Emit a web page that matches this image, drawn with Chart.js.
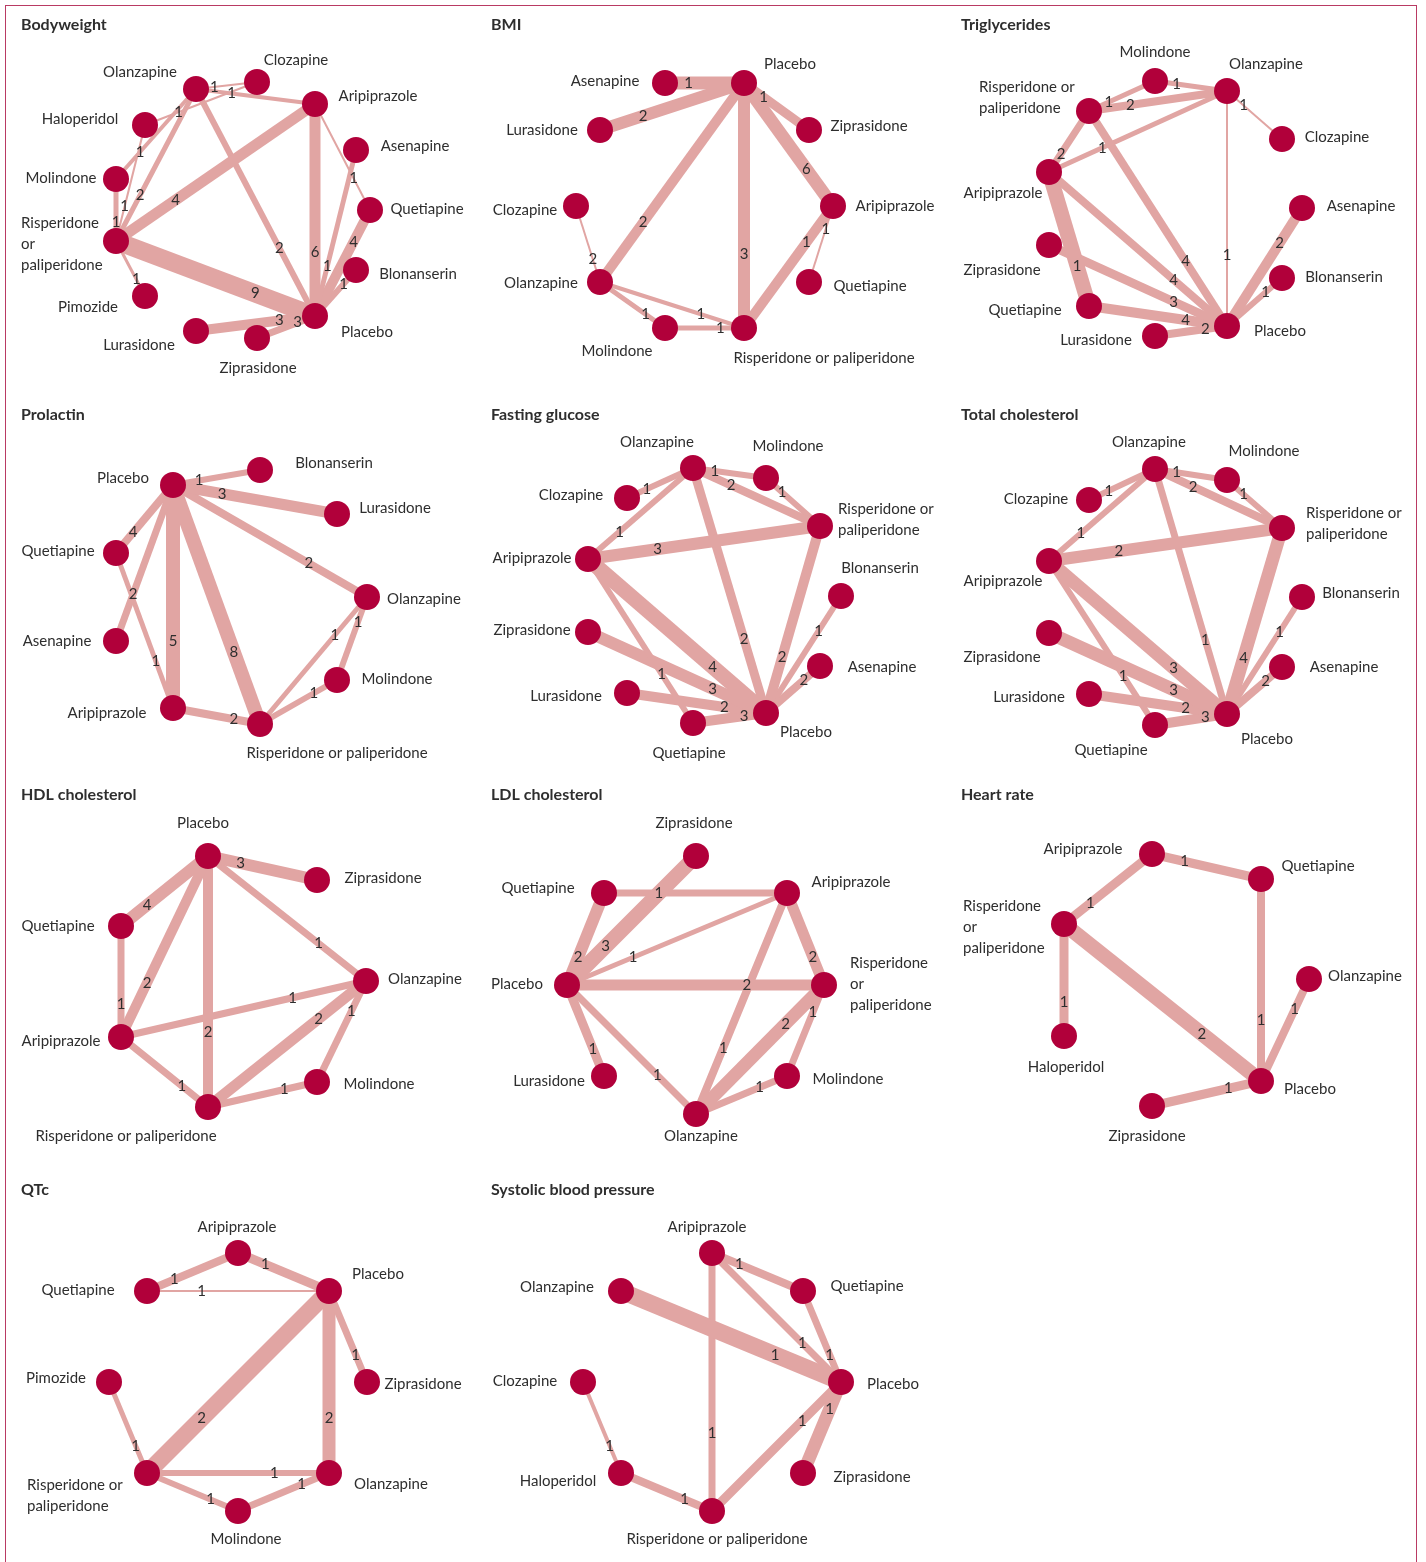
<!DOCTYPE html>
<html>
<head>
<meta charset="utf-8">
<script src="https://cdn.jsdelivr.net/npm/chart.js@4/dist/chart.umd.min.js"></script>
<style>
  body { margin: 0; background: #fff; }
  #page { position: relative; width: 1426px; height: 1562px; overflow: hidden; }
  #frame { position: absolute; left: 5px; top: 5px; width: 1412px; height: 1600px;
           border: 1px solid #b93a63; border-bottom: none; box-sizing: border-box; }
  canvas { position: absolute; }
</style>
</head>
<body>
<div id="page"><div id="frame"></div></div>
<script>
// node layout: [name, x, y]   edges: [near node, far node, number of studies, line weight]
// labels: [dx, dy] centred, or [dx, dy, text] left aligned over several lines

const bodyweightNodes = [
  ["Olanzapine", 186, 79], ["Clozapine", 247, 72], ["Aripiprazole", 305, 94], ["Haloperidol", 135, 115],
  ["Asenapine", 346, 140], ["Molindone", 106, 169], ["Quetiapine", 360, 200], ["Risperidone", 106, 231],
  ["Blonanserin", 346, 260], ["Pimozide", 135, 286], ["Placebo", 305, 306], ["Lurasidone", 186, 321],
  ["Ziprasidone", 247, 328]
];
const bodyweightEdges = [
  ["Olanzapine", "Clozapine", 1, 2], ["Olanzapine", "Aripiprazole", 1, 4], ["Haloperidol", "Clozapine", 1, 2],
  ["Molindone", "Olanzapine", 1, 4], ["Risperidone", "Olanzapine", 2, 5], ["Risperidone", "Haloperidol", 1, 2],
  ["Risperidone", "Molindone", 1, 5], ["Risperidone", "Aripiprazole", 4, 11], ["Placebo", "Olanzapine", 2, 6],
  ["Placebo", "Aripiprazole", 6, 11], ["Placebo", "Asenapine", 1, 5], ["Quetiapine", "Aripiprazole", 1, 2],
  ["Quetiapine", "Placebo", 4, 10], ["Blonanserin", "Placebo", 1, 6], ["Placebo", "Risperidone", 9, 18],
  ["Placebo", "Lurasidone", 3, 10], ["Placebo", "Ziprasidone", 3, 7], ["Pimozide", "Risperidone", 1, 3]
];
const bodyweightLabels = [
  [-56, -17], [39, -22], [63, -8], [-65, -6], [59, -4], [-55, -1], [57, -1],
  [-95, -18, "Risperidone\nor\npaliperidone"], [62, 4], [-57, 11], [52, 16], [-57, 14], [1, 30]
];

const bmiNodes = [
  ["Asenapine", 185, 73], ["Placebo", 264, 73], ["Lurasidone", 120, 120], ["Ziprasidone", 329, 120],
  ["Clozapine", 96, 196], ["Aripiprazole", 353, 196], ["Olanzapine", 120, 272], ["Quetiapine", 329, 272],
  ["Molindone", 185, 318], ["Risperidone or paliperidone", 264, 318]
];
const bmiEdges = [
  ["Asenapine", "Placebo", 1, 13], ["Lurasidone", "Placebo", 2, 12], ["Placebo", "Ziprasidone", 1, 9],
  ["Aripiprazole", "Placebo", 6, 13], ["Olanzapine", "Placebo", 2, 10], ["Risperidone or paliperidone", "Placebo", 3, 12],
  ["Aripiprazole", "Risperidone or paliperidone", 1, 10], ["Aripiprazole", "Quetiapine", 1, 2],
  ["Olanzapine", "Clozapine", 2, 2], ["Molindone", "Olanzapine", 1, 5],
  ["Risperidone or paliperidone", "Olanzapine", 1, 4], ["Risperidone or paliperidone", "Molindone", 1, 5]
];
const bmiLabels = [
  [-60, -2], [46, -19], [-58, 0], [60, -4], [-51, 4], [62, 0], [-59, 1], [61, 4], [-48, 23], [80, 30]
];

const triglyceridesNodes = [
  ["Molindone", 205, 71], ["Olanzapine", 277, 81], ["Risperidone", 139, 101], ["Clozapine", 332, 129],
  ["Aripiprazole", 99, 162], ["Asenapine", 352, 198], ["Ziprasidone", 99, 235], ["Blonanserin", 332, 268],
  ["Quetiapine", 139, 296], ["Placebo", 277, 316], ["Lurasidone", 205, 326]
];
const triglyceridesEdges = [
  ["Molindone", "Olanzapine", 1, 5], ["Risperidone", "Molindone", 1, 5], ["Risperidone", "Olanzapine", 2, 8],
  ["Olanzapine", "Clozapine", 1, 2], ["Aripiprazole", "Olanzapine", 1, 5], ["Aripiprazole", "Risperidone", 2, 7],
  ["Placebo", "Olanzapine", 1, 2], ["Placebo", "Risperidone", 4, 8], ["Placebo", "Aripiprazole", 4, 8],
  ["Quetiapine", "Aripiprazole", 1, 15], ["Placebo", "Ziprasidone", 3, 9], ["Placebo", "Quetiapine", 4, 10],
  ["Placebo", "Lurasidone", 2, 8], ["Asenapine", "Placebo", 2, 10], ["Blonanserin", "Placebo", 1, 6]
];
const triglyceridesLabels = [
  [0, -29], [39, -27], [-110, -24, "Risperidone or\npaliperidone"], [55, -2], [-46, 21], [59, -2],
  [-47, 25], [62, -1], [-64, 4], [53, 5], [-59, 4]
];

const prolactinNodes = [
  ["Placebo", 163, 85], ["Blonanserin", 250, 70], ["Lurasidone", 327, 114], ["Quetiapine", 106, 153],
  ["Olanzapine", 357, 197], ["Asenapine", 106, 241], ["Molindone", 327, 280], ["Aripiprazole", 163, 308],
  ["Risperidone or paliperidone", 250, 324]
];
const prolactinEdges = [
  ["Placebo", "Blonanserin", 1, 6], ["Placebo", "Lurasidone", 3, 11], ["Olanzapine", "Placebo", 2, 8],
  ["Quetiapine", "Placebo", 4, 8], ["Asenapine", "Placebo", 2, 7], ["Aripiprazole", "Placebo", 5, 14],
  ["Risperidone or paliperidone", "Placebo", 8, 14], ["Aripiprazole", "Quetiapine", 1, 5],
  ["Risperidone or paliperidone", "Aripiprazole", 2, 8], ["Olanzapine", "Risperidone or paliperidone", 1, 5],
  ["Olanzapine", "Molindone", 1, 6], ["Molindone", "Risperidone or paliperidone", 1, 6]
];
const prolactinLabels = [
  [-50, -7], [74, -7], [58, -6], [-58, -2], [57, 2], [-59, 0], [60, -1], [-66, 5], [77, 29]
];

const glucoseNodes = [
  ["Olanzapine", 213, 68], ["Molindone", 286, 78], ["Clozapine", 147, 98], ["Risperidone", 340, 126],
  ["Aripiprazole", 108, 159], ["Blonanserin", 361, 196], ["Ziprasidone", 108, 232], ["Asenapine", 340, 266],
  ["Lurasidone", 147, 293], ["Placebo", 286, 313], ["Quetiapine", 213, 323]
];
const glucoseEdges = [
  ["Clozapine", "Olanzapine", 1, 6], ["Olanzapine", "Molindone", 1, 6], ["Olanzapine", "Risperidone", 2, 8],
  ["Molindone", "Risperidone", 1, 6], ["Aripiprazole", "Olanzapine", 1, 6], ["Aripiprazole", "Risperidone", 3, 12],
  ["Placebo", "Olanzapine", 2, 9], ["Placebo", "Risperidone", 2, 10], ["Blonanserin", "Placebo", 1, 6],
  ["Asenapine", "Placebo", 2, 8], ["Placebo", "Aripiprazole", 4, 15], ["Quetiapine", "Aripiprazole", 1, 6],
  ["Placebo", "Ziprasidone", 3, 12], ["Placebo", "Lurasidone", 2, 10], ["Placebo", "Quetiapine", 3, 10]
];
const glucoseLabels = [
  [-36, -26], [22, -32], [-56, -3], [18, -17, "Risperidone or\npaliperidone"], [-56, -1], [39, -28],
  [-56, -2], [62, 1], [-61, 3], [40, 19], [-4, 30]
];

const cholesterolNodes = [
  ["Olanzapine", 205, 69], ["Molindone", 277, 80], ["Clozapine", 139, 100], ["Risperidone", 332, 128],
  ["Aripiprazole", 99, 161], ["Blonanserin", 352, 197], ["Ziprasidone", 99, 233], ["Asenapine", 332, 267],
  ["Lurasidone", 139, 294], ["Placebo", 277, 314], ["Quetiapine", 205, 325]
];
const cholesterolEdges = [
  ["Clozapine", "Olanzapine", 1, 6], ["Olanzapine", "Molindone", 1, 6], ["Olanzapine", "Risperidone", 2, 8],
  ["Molindone", "Risperidone", 1, 6], ["Aripiprazole", "Olanzapine", 1, 6], ["Aripiprazole", "Risperidone", 2, 12],
  ["Placebo", "Olanzapine", 1, 7], ["Placebo", "Risperidone", 4, 13], ["Blonanserin", "Placebo", 1, 6],
  ["Asenapine", "Placebo", 2, 8], ["Placebo", "Aripiprazole", 3, 13], ["Quetiapine", "Aripiprazole", 1, 6],
  ["Placebo", "Ziprasidone", 3, 13], ["Placebo", "Lurasidone", 2, 10], ["Placebo", "Quetiapine", 3, 10]
];
const cholesterolLabels = [
  [-6, -27], [37, -29], [-53, -1], [24, -15, "Risperidone or\npaliperidone"], [-46, 20], [59, -4],
  [-47, 24], [62, 0], [-60, 3], [40, 25], [-44, 25]
];

const hdlNodes = [
  ["Placebo", 198, 76], ["Ziprasidone", 307, 100], ["Quetiapine", 111, 146], ["Olanzapine", 356, 201],
  ["Aripiprazole", 111, 257], ["Molindone", 307, 302], ["Risperidone or paliperidone", 198, 327]
];
const hdlEdges = [
  ["Placebo", "Ziprasidone", 3, 12], ["Quetiapine", "Placebo", 4, 12], ["Aripiprazole", "Placebo", 2, 10],
  ["Risperidone or paliperidone", "Placebo", 2, 10], ["Olanzapine", "Placebo", 1, 7],
  ["Aripiprazole", "Quetiapine", 1, 7], ["Olanzapine", "Aripiprazole", 1, 7],
  ["Risperidone or paliperidone", "Aripiprazole", 1, 7], ["Olanzapine", "Risperidone or paliperidone", 2, 11],
  ["Olanzapine", "Molindone", 1, 7], ["Molindone", "Risperidone or paliperidone", 1, 7]
];
const hdlLabels = [
  [-5, -33], [66, -2], [-63, 0], [59, -2], [-60, 4], [62, 2], [-82, 29]
];

const ldlNodes = [
  ["Ziprasidone", 216, 76], ["Quetiapine", 124, 113], ["Aripiprazole", 307, 113], ["Placebo", 87, 205],
  ["Risperidone", 344, 205], ["Lurasidone", 124, 296], ["Molindone", 307, 296], ["Olanzapine", 216, 334]
];
const ldlEdges = [
  ["Quetiapine", "Aripiprazole", 1, 7], ["Placebo", "Ziprasidone", 3, 15], ["Placebo", "Quetiapine", 2, 12],
  ["Placebo", "Aripiprazole", 1, 5], ["Risperidone", "Placebo", 2, 11], ["Risperidone", "Aripiprazole", 2, 11],
  ["Olanzapine", "Aripiprazole", 1, 8], ["Risperidone", "Olanzapine", 2, 13], ["Risperidone", "Molindone", 1, 7],
  ["Molindone", "Olanzapine", 1, 7], ["Lurasidone", "Placebo", 1, 9], ["Olanzapine", "Placebo", 1, 7]
];
const ldlLabels = [
  [-2, -33], [-66, -5], [64, -11], [-50, -1], [26, -22, "Risperidone\nor\npaliperidone"], [-55, 5], [61, 3], [5, 22]
];

const heartNodes = [
  ["Aripiprazole", 202, 74], ["Quetiapine", 311, 99], ["Risperidone", 114, 144], ["Olanzapine", 359, 199],
  ["Haloperidol", 114, 256], ["Placebo", 311, 301], ["Ziprasidone", 202, 326]
];
const heartEdges = [
  ["Aripiprazole", "Quetiapine", 1, 9], ["Risperidone", "Aripiprazole", 1, 9], ["Haloperidol", "Risperidone", 1, 9],
  ["Placebo", "Risperidone", 2, 15], ["Placebo", "Quetiapine", 1, 8], ["Olanzapine", "Placebo", 1, 8],
  ["Placebo", "Ziprasidone", 1, 9]
];
const heartLabels = [
  [-69, -5], [57, -13], [-101, -18, "Risperidone\nor\npaliperidone"], [56, -3], [2, 31], [49, 8], [-5, 30]
];

const qtcNodes = [
  ["Aripiprazole", 228, 78], ["Quetiapine", 137, 116], ["Placebo", 319, 116], ["Pimozide", 99, 207],
  ["Ziprasidone", 357, 207], ["Risperidone", 137, 298], ["Olanzapine", 319, 298], ["Molindone", 228, 336]
];
const qtcEdges = [
  ["Quetiapine", "Aripiprazole", 1, 8], ["Aripiprazole", "Placebo", 1, 9], ["Quetiapine", "Placebo", 1, 2],
  ["Ziprasidone", "Placebo", 1, 7], ["Risperidone", "Placebo", 2, 17], ["Olanzapine", "Placebo", 2, 13],
  ["Risperidone", "Pimozide", 1, 5], ["Olanzapine", "Risperidone", 1, 6], ["Molindone", "Risperidone", 1, 6],
  ["Olanzapine", "Molindone", 1, 7]
];
const qtcLabels = [
  [-1, -26], [-69, -1], [49, -17], [-53, -4], [56, 2], [-120, 12, "Risperidone or\npaliperidone"], [62, 11], [8, 28]
];

const sbpNodes = [
  ["Aripiprazole", 232, 78], ["Olanzapine", 141, 116], ["Quetiapine", 323, 116], ["Clozapine", 103, 207],
  ["Placebo", 361, 207], ["Haloperidol", 141, 298], ["Ziprasidone", 323, 298], ["Risperidone or paliperidone", 232, 336]
];
const sbpEdges = [
  ["Aripiprazole", "Quetiapine", 1, 8], ["Placebo", "Aripiprazole", 1, 7], ["Placebo", "Quetiapine", 1, 7],
  ["Placebo", "Olanzapine", 1, 17], ["Risperidone or paliperidone", "Aripiprazole", 1, 7],
  ["Placebo", "Risperidone or paliperidone", 1, 9], ["Placebo", "Ziprasidone", 1, 13],
  ["Haloperidol", "Clozapine", 1, 4], ["Risperidone or paliperidone", "Haloperidol", 1, 8]
];
const sbpLabels = [
  [-5, -26], [-64, -4], [64, -5], [-58, -1], [52, 2], [-63, 8], [69, 4], [5, 28]
];

const panelTitles = ["Bodyweight", "BMI", "Triglycerides", "Prolactin", "Fasting glucose", "Total cholesterol",
  "HDL cholesterol", "LDL cholesterol", "Heart rate", "QTc", "Systolic blood pressure"];

const panels = [
  [bodyweightNodes, bodyweightEdges, bodyweightLabels],
  [bmiNodes, bmiEdges, bmiLabels],
  [triglyceridesNodes, triglyceridesEdges, triglyceridesLabels],
  [prolactinNodes, prolactinEdges, prolactinLabels],
  [glucoseNodes, glucoseEdges, glucoseLabels],
  [cholesterolNodes, cholesterolEdges, cholesterolLabels],
  [hdlNodes, hdlEdges, hdlLabels],
  [ldlNodes, ldlEdges, ldlLabels],
  [heartNodes, heartEdges, heartLabels],
  [qtcNodes, qtcEdges, qtcLabels],
  [sbpNodes, sbpEdges, sbpLabels]
];

const NODE_COLOR = "#b1003a";
const EDGE_COLOR = "#e1a5a3";
const TEXT_COLOR = "#2e2e2e";
const LABEL_AT = 0.3;   // count label sits 30% along the edge from its near end
const rowTops = [10, 400, 780, 1175];
const panelW = 470, panelH = 385;

function drawText(chart, title, nodes, edges, labels) {
  const ctx = chart.ctx;
  const xs = chart.scales.x, ys = chart.scales.y;
  const pos = {};
  nodes.forEach(n => { pos[n[0]] = [xs.getPixelForValue(n[1]), ys.getPixelForValue(n[2])]; });
  ctx.save();
  ctx.fillStyle = TEXT_COLOR;
  ctx.textBaseline = "middle";

  // study counts on the edges
  ctx.font = "15px Lato";
  ctx.textAlign = "center";
  edges.forEach(e => {
    const a = pos[e[0]], b = pos[e[1]];
    ctx.fillText(String(e[2]), a[0] + (b[0] - a[0]) * LABEL_AT, a[1] + (b[1] - a[1]) * LABEL_AT);
  });

  // drug names
  ctx.font = "15px Lato";
  nodes.forEach((n, i) => {
    const l = labels[i];
    const p = pos[n[0]];
    if (l.length > 2) {
      ctx.textAlign = "left";
      l[2].split("\n").forEach((line, k) => ctx.fillText(line, p[0] + l[0], p[1] + l[1] + k * 21));
    } else {
      ctx.textAlign = "center";
      ctx.fillText(n[0], p[0] + l[0], p[1] + l[1]);
    }
  });

  ctx.font = "bold 16px Lato";
  ctx.textAlign = "left";
  ctx.fillText(title, 11, 15);
  ctx.restore();
}

panels.forEach((panel, i) => {
  const [nodes, edges, labels] = panel;
  const title = panelTitles[i];
  const canvas = document.createElement("canvas");
  canvas.width = panelW;
  canvas.height = panelH;
  canvas.style.left = (10 + (i % 3) * 470) + "px";
  canvas.style.top = rowTops[Math.floor(i / 3)] + "px";
  canvas.style.width = panelW + "px";
  canvas.style.height = panelH + "px";
  document.getElementById("page").appendChild(canvas);

  const pt = {};
  nodes.forEach(n => { pt[n[0]] = { x: n[1], y: n[2] }; });

  const datasets = [{
    type: "scatter",
    data: nodes.map(n => ({ x: n[1], y: n[2] })),
    pointRadius: 13,
    pointHoverRadius: 13,
    backgroundColor: NODE_COLOR,
    borderWidth: 0,
    order: 0
  }];
  edges.forEach(e => {
    datasets.push({
      type: "line",
      data: [pt[e[0]], pt[e[1]]],
      borderColor: EDGE_COLOR,
      borderWidth: e[3],
      borderCapStyle: "butt",
      pointRadius: 0,
      fill: false,
      order: 1
    });
  });

  new Chart(canvas, {
    type: "scatter",
    data: { datasets: datasets },
    options: {
      responsive: false,
      animation: false,
      events: [],
      layout: { padding: 0, autoPadding: false },
      plugins: { legend: { display: false }, tooltip: { enabled: false } },
      scales: {
        x: { type: "linear", min: 0, max: panelW, display: false },
        y: { type: "linear", min: 0, max: panelH, reverse: true, display: false }
      }
    },
    plugins: [{
      id: "networkText",
      afterDatasetsDraw(chart) { drawText(chart, title, nodes, edges, labels); }
    }]
  });
});
</script>
</body>
</html>
